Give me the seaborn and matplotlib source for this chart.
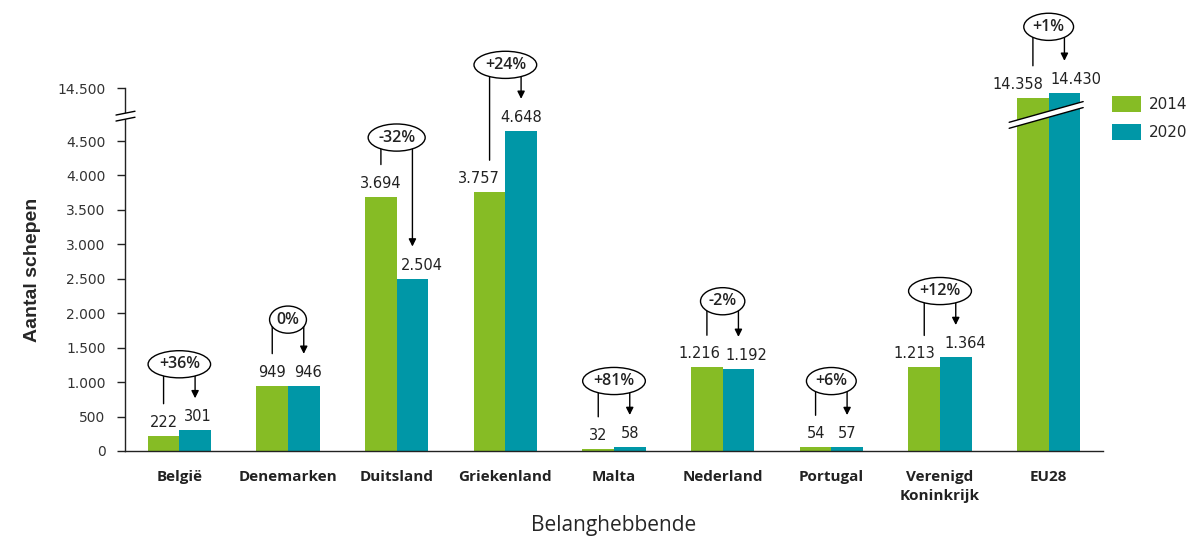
import numpy as np
import pandas as pd
import matplotlib
matplotlib.use("Agg")
import matplotlib.pyplot as plt
import matplotlib.transforms as mtransforms
from matplotlib.patches import Polygon
from matplotlib.lines import Line2D
import seaborn as sns

# data
landen = ["België", "Denemarken", "Duitsland", "Griekenland", "Malta",
          "Nederland", "Portugal", "Verenigd\nKoninkrijk", "EU28"]
schepen_2014 = [222, 949, 3694, 3757, 32, 1216, 54, 1213, 14358]
schepen_2020 = [301, 946, 2504, 4648, 58, 1192, 57, 1364, 14430]
verandering = ["+36%", "0%", "-32%", "+24%", "+81%", "-2%", "+6%", "+12%", "+1%"]
jaren = ["2014", "2020"]
y_ticks = [0, 500, 1000, 1500, 2000, 2500, 3000, 3500, 4000, 4500, 14500]

GROEN = "#86bc25"
BLAUW = "#0097a7"

# label nudges (pixels) so neighbouring value labels do not collide
schuif_a = [0, 0, 0, -11, 0, -8, 0, -10, -15]
schuif_b = [3, 4, 9, 0, 0, 8, 0, 9, 12]

df = pd.DataFrame({
    "land": landen * 2,
    "jaar": [jaren[0]] * len(landen) + [jaren[1]] * len(landen),
    "aantal": schepen_2014 + schepen_2020,
})


def punt(v):
    return f"{v:,}".replace(",", ".")


# broken y axis: same scale below and above, a small gap in between
LAAG, HOOG, SPRONG = 4850, 14100, 20


def heen(y):
    y = np.asarray(y, dtype=float)
    return np.where(y <= LAAG, y,
                    np.where(y >= HOOG, y - (HOOG - LAAG) + SPRONG,
                             LAAG + (y - LAAG) * SPRONG / (HOOG - LAAG)))


def terug(z):
    z = np.asarray(z, dtype=float)
    return np.where(z <= LAAG, z,
                    np.where(z >= LAAG + SPRONG, z + (HOOG - LAAG) - SPRONG,
                             LAAG + (z - LAAG) * (HOOG - LAAG) / SPRONG))


sns.set_style("white")
plt.rcParams["font.family"] = ["DejaVu Sans"]

fig = plt.figure(figsize=(11.95, 5.39), dpi=100)
ax = fig.add_axes([125 / 1195, 1 - 451 / 539, (1103 - 125) / 1195, (451 - 88) / 539])

sns.barplot(data=df, x="land", y="aantal", hue="jaar", palette=[GROEN, BLAUW],
            width=0.58, saturation=1, ax=ax, linewidth=0)

ax.set_yscale("function", functions=(heen, terug))
ax.set_ylim(0, 14500)
ax.set_xlim(-0.5, len(landen) - 0.5)

ax.set_yticks(y_ticks)
ax.set_yticklabels([punt(t) for t in y_ticks], fontsize=10, color="#333333")
ax.set_xticks(np.arange(len(landen) + 1) - 0.5)
ax.set_xticklabels([])
ax.set_xticks(np.arange(len(landen)), minor=True)
ax.set_xticklabels(landen, minor=True, fontsize=11, fontweight="bold",
                   family="Open Sans", color="#222222", linespacing=1.45)
ax.tick_params(axis="x", which="major", length=5, width=1, color="#222222", direction="out")
ax.tick_params(axis="x", which="minor", length=0, pad=14)
ax.tick_params(axis="y", length=6, width=1, color="#222222", direction="out",
               left=True, pad=8)

for s in ["top", "right"]:
    ax.spines[s].set_visible(False)
for s in ["left", "bottom"]:
    ax.spines[s].set_color("#222222")
    ax.spines[s].set_linewidth(1)

ax.set_ylabel("Aantal schepen", fontsize=14, fontweight="bold",
              family="Liberation Sans", labelpad=12)
ax.set_xlabel("Belanghebbende", fontsize=15, family="Open Sans", labelpad=8)


def off(dy, dx=0):
    return mtransforms.offset_copy(ax.transData, fig=fig, x=dx, y=dy, units="dots")


bars_a = ax.containers[0]
bars_b = ax.containers[1]
for i in range(len(landen)):
    ba, bb = bars_a[i], bars_b[i]
    xa = ba.get_x() + ba.get_width() / 2
    xb = bb.get_x() + bb.get_width() / 2
    va, vb = schepen_2014[i], schepen_2020[i]
    top = max(va, vb)
    lift = 59 if i == 2 else 66

    ax.annotate(punt(va), xy=(xa, va), xycoords=off(9, schuif_a[i]), ha="center",
                va="baseline", fontsize=10.5, color="#222222", annotation_clip=False)
    ax.annotate(punt(vb), xy=(xb, vb), xycoords=off(9, schuif_b[i]), ha="center",
                va="baseline", fontsize=10.5, color="#222222", annotation_clip=False)

    ax.annotate("", xy=(xa, va), xycoords=off(32), xytext=(xa, top), textcoords=off(lift),
                arrowprops=dict(arrowstyle="-", lw=1, color="black", shrinkA=0, shrinkB=0),
                annotation_clip=False, zorder=4)
    ax.annotate("", xy=(xb, vb), xycoords=off(32), xytext=(xb, top), textcoords=off(lift),
                arrowprops=dict(arrowstyle="-|>", lw=1, color="black", shrinkA=0, shrinkB=0,
                                mutation_scale=11),
                annotation_clip=False, zorder=4)
    ax.annotate(verandering[i], xy=(i, top), xycoords=off(lift), ha="center", va="center",
                fontsize=11.5, fontweight="semibold", family="Open Sans", color="#222222",
                bbox=dict(boxstyle="ellipse,pad=0.1", fc="white", ec="black", lw=1),
                annotation_clip=False, zorder=5)

ax.legend_.remove()
handles, labels = ax.get_legend_handles_labels()
fig.legend(handles, labels, loc="upper left", bbox_to_anchor=(1112 / 1195, 1 - 96 / 539),
           frameon=False, fontsize=11, handlelength=1.9, handleheight=1.2,
           handletextpad=0.5, labelspacing=0.78, borderpad=0, borderaxespad=0)

# break marks (pixel shapes at the break value)
breuk = float(terug(LAAG + SPRONG / 2))
ident = mtransforms.IdentityTransform()


def band(xl, xr, xc, yc, slope, dik):
    ys_l = yc + (xl - xc) * slope
    ys_r = yc + (xr - xc) * slope
    poly = Polygon([(xl, ys_l - dik / 2), (xr, ys_r - dik / 2),
                    (xr, ys_r + dik / 2), (xl, ys_l + dik / 2)],
                   closed=True, fc="white", ec="none", transform=ident, zorder=10)
    fig.add_artist(poly)
    for d in (-dik / 2, dik / 2):
        fig.add_artist(Line2D([xl, xr], [ys_l + d, ys_r + d], color="black",
                              lw=1, transform=ident, zorder=11))


x0, yb = ax.transData.transform((-0.5, breuk))
band(x0 - 9, x0 + 10, x0, yb, 0.2, 6)

eu_a, eu_b = bars_a[8], bars_b[8]
xl = ax.transData.transform((eu_a.get_x(), 0))[0] - 8
xr = ax.transData.transform((eu_b.get_x() + eu_b.get_width(), 0))[0] + 3
xc = ax.transData.transform((8, 0))[0]
band(xl, xr, xc, yb + 2, 0.28, 6)

fig.savefig("out.png", dpi=100)
